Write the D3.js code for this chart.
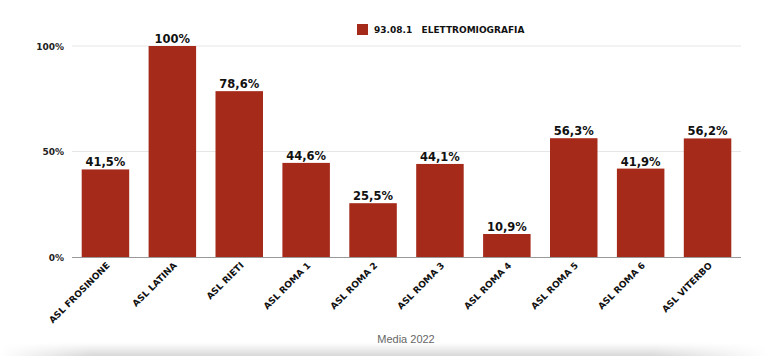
<!DOCTYPE html>
<html>
<head>
  <script src="https://cdn.jsdelivr.net/npm/d3@7"></script>
  <style>
    body { margin: 0; background: #fff; }
    text { font-family: "DejaVu Sans", sans-serif; font-weight: bold; }
  </style>
</head>
<body>
  <svg width="767" height="356"></svg>
<script>

const categories = ['ASL FROSINONE', 'ASL LATINA', 'ASL RIETI', 'ASL ROMA 1', 'ASL ROMA 2',
  'ASL ROMA 3', 'ASL ROMA 4', 'ASL ROMA 5', 'ASL ROMA 6', 'ASL VITERBO'];
const values = [41.5, 100, 78.6, 44.6, 25.5, 44.1, 10.9, 56.3, 41.9, 56.2];
const yTicks = [0, 50, 100];
const seriesName = '93.08.1   ELETTROMIOGRAFIA';
const xTitle = 'Media 2022';

const color = '#a52a1a';
const svg = d3.select('svg');

// soft shadow at the bottom
let defs = svg.append('defs');
let grad = defs.append('linearGradient').attr('id', 'shade').attr('x1', 0).attr('y1', 0).attr('x2', 0).attr('y2', 1);
grad.append('stop').attr('offset', '0%').attr('stop-color', '#fff');
grad.append('stop').attr('offset', '100%').attr('stop-color', '#d8d8d8');
let rg = defs.append('linearGradient').attr('id', 'fadeh');
rg.append('stop').attr('offset', '0%').attr('stop-color', '#fff').attr('stop-opacity', 1);
rg.append('stop').attr('offset', '12%').attr('stop-color', '#fff').attr('stop-opacity', 0);
rg.append('stop').attr('offset', '85%').attr('stop-color', '#fff').attr('stop-opacity', 0);
rg.append('stop').attr('offset', '100%').attr('stop-color', '#fff').attr('stop-opacity', 1);
svg.append('rect').attr('x', 0).attr('y', 343).attr('width', 767).attr('height', 13).attr('fill', 'url(#shade)');
svg.append('rect').attr('x', 0).attr('y', 343).attr('width', 767).attr('height', 13).attr('fill', 'url(#fadeh)');

const mLeft = 72, mRight = 741, mTop = 46, mBottom = 257;

let x = d3.scaleBand().domain(categories).range([mLeft, mRight]).paddingInner(0.29).paddingOuter(0.145);
let y = d3.scaleLinear().domain([0, 100]).range([mBottom, mTop]);

// grid
svg.append('g').selectAll('line').data(yTicks.filter(d => d > 0)).join('line')
  .attr('x1', mLeft).attr('x2', mRight)
  .attr('y1', d => y(d)).attr('y2', d => y(d))
  .style('stroke', '#e6e6e6').style('stroke-width', 1);

// y labels
svg.append('g').selectAll('text').data(yTicks).join('text')
  .attr('x', 64).attr('y', d => y(d) + 3.5)
  .attr('text-anchor', 'end')
  .style('font-size', '9px').style('fill', '#222')
  .text(d => d + '%');

// bars
svg.append('g').selectAll('rect').data(values).join('rect')
  .attr('x', (d, i) => x(categories[i]))
  .attr('y', d => y(d))
  .attr('width', x.bandwidth())
  .attr('height', d => y(0) - y(d))
  .style('fill', color);

// value labels
svg.append('g').selectAll('text').data(values).join('text')
  .attr('x', (d, i) => x(categories[i]) + x.bandwidth() / 2)
  .attr('y', d => y(d) - 3)
  .attr('text-anchor', 'middle')
  .style('font-size', '11.5px').style('fill', '#111')
  .text(d => d === 100 ? '100%' : d.toFixed(1).replace('.', ',') + '%');

// axis line
svg.append('line').attr('x1', mLeft).attr('x2', mRight).attr('y1', mBottom + 0.5).attr('y2', mBottom + 0.5)
  .style('stroke', '#999').style('stroke-width', 1);

// category labels
svg.append('g').selectAll('text').data(categories).join('text')
  .attr('transform', d => 'translate(' + (x(d) + x.bandwidth() / 2 + 5) + ',' + (mBottom + 9) + ') rotate(-45)')
  .attr('text-anchor', 'end')
  .style('font-size', '9px').style('fill', '#111')
  .text(d => d);

// x title
svg.append('text').attr('x', 406).attr('y', 343).attr('text-anchor', 'middle')
  .style('font-family', 'Liberation Sans, Arial, sans-serif').style('font-weight', 'normal')
  .style('font-size', '11px').style('fill', '#666')
  .text(xTitle);

// legend
svg.append('rect').attr('x', 357).attr('y', 24).attr('width', 11).attr('height', 11).style('fill', color);
svg.append('text').attr('x', 374).attr('y', 33).attr('xml:space', 'preserve')
  .style('font-size', '9px').style('fill', '#111')
  .text(seriesName);

</script>
</body>
</html>
